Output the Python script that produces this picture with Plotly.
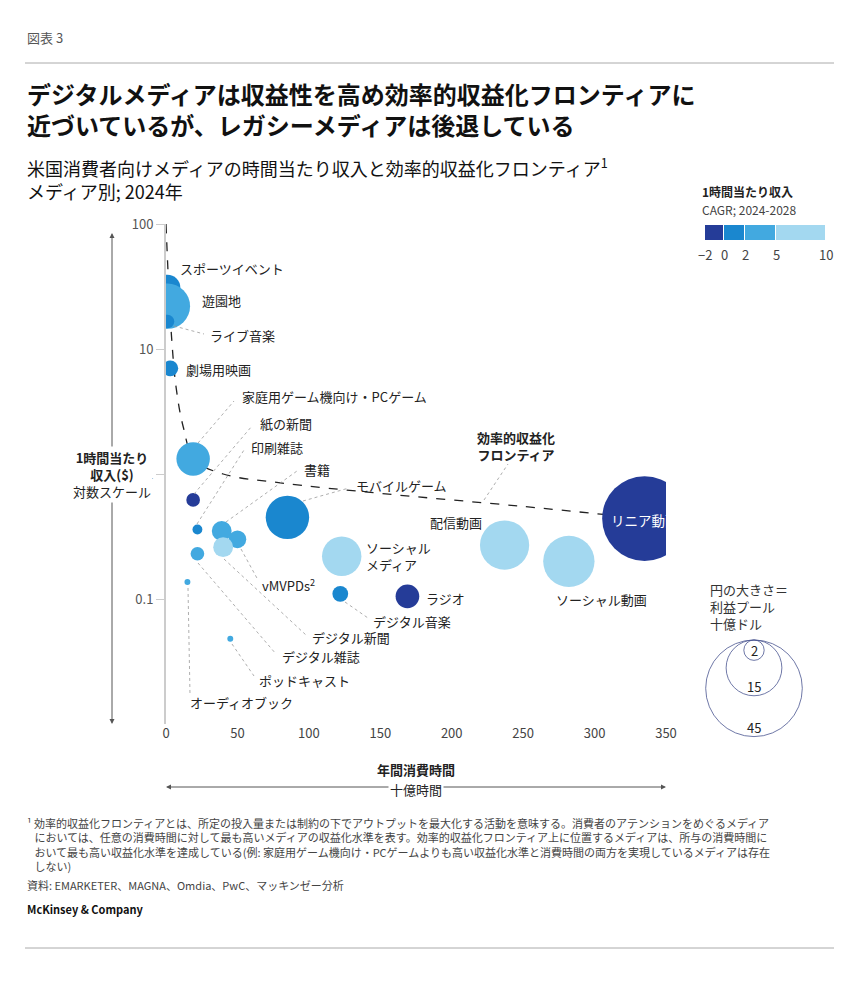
import numpy as np
import plotly.graph_objects as go

# data
media = ["スポーツイベント", "遊園地", "ライブ音楽", "劇場用映画", "家庭用ゲーム機向け・PCゲーム",
         "紙の新聞", "印刷雑誌", "書籍", "vMVPDs", "デジタル新聞", "デジタル雑誌", "モバイルゲーム",
         "ソーシャルメディア", "デジタル音楽", "ラジオ", "配信動画", "ソーシャル動画", "リニア動画",
         "ポッドキャスト", "オーディオブック"]
hours = [1, 1, 1, 3, 19, 19, 22, 39, 50, 40, 22, 85, 123, 122, 169, 237, 282, 335, 45, 15]
revenue = [31, 22, 16.6, 7, 1.32, 0.62, 0.36, 0.35, 0.30, 0.26, 0.23, 0.45, 0.22, 0.11, 0.105,
           0.27, 0.2, 0.44, 0.048, 0.137]
profit = [3.2, 9.9, 0.9, 1.2, 5.4, 0.9, 0.47, 1.9, 1.5, 1.9, 0.9, 9.1, 7.5, 1.2, 2.7, 11.7,
          12.7, 34.7, 0.17, 0.17]
cagr_bin = [1, 2, 1, 1, 2, 0, 1, 2, 2, 3, 2, 1, 3, 1, 0, 3, 3, 0, 2, 2]

frontier_x = [0, 2, 4, 7, 12, 20, 40, 80, 150, 250, 335]
frontier_y = [100, 30, 12, 5, 2.4, 1.3, 1.0, 0.85, 0.7, 0.55, 0.44]

bin_colors = ["#253c98", "#1a87cf", "#42a9e0", "#a3d8f0"]
cagr_ticks = [-2, 0, 2, 5, 10]
legend_sizes = [45, 15, 2]

K = 7.2  # px radius per sqrt(billion $)
FONT = "Noto Sans CJK JP"

fig = go.Figure()
fig.add_trace(go.Scatter(x=frontier_x, y=frontier_y, mode="lines",
                         line=dict(color="#222", width=1.3, dash="dash", shape="spline"),
                         hoverinfo="skip"))
fig.add_trace(go.Scatter(
    x=hours, y=revenue, mode="markers", text=media,
    marker=dict(size=[2 * K * np.sqrt(p) for p in profit],
                color=[bin_colors[b] for b in cagr_bin], opacity=1, line=dict(width=0))))

# pixel -> paper helpers (plot area: x 158..658, y 216..716)
def px(p):
    return (p - 158) / 500

def py(p):
    return (716 - p) / 500

ann = []
shapes = []

def text(x, y, s, size=13, color="#222", anchor="left", bold=False, bg=None, valign="middle"):
    if bold:
        s = "<b>" + s + "</b>"
    d = dict(x=px(x), y=py(y), xref="paper", yref="paper", text=s, showarrow=False,
             xanchor=anchor, yanchor=valign, font=dict(size=size, color=color, family=FONT),
             align=anchor if anchor != "center" else "center")
    if bg:
        d["bgcolor"] = bg
    ann.append(d)

def line(x0, y0, x1, y1, color="#999", width=0.8, dash="dot"):
    shapes.append(dict(type="line", xref="paper", yref="paper", x0=px(x0), y0=py(y0),
                       x1=px(x1), y1=py(y1), line=dict(color=color, width=width, dash=dash)))

# labels
text(170, 260, "スポーツイベント")
text(192, 292, "遊園地")
text(200, 327, "ライブ音楽"); line(166, 318, 196, 326)
text(176, 361, "劇場用映画")
text(232, 388, "家庭用ゲーム機向け・PCゲーム"); line(190, 435, 226, 393)
text(250, 415, "紙の新聞"); line(186, 486, 244, 418)
text(241, 439, "印刷雑誌"); line(189, 516, 236, 442)
text(294, 461, "書籍"); line(218, 514, 289, 463)
text(346, 477, "モバイルゲーム"); line(295, 493, 341, 480)
text(356, 548, "ソーシャル<br>メディア")
text(420, 514, "配信動画")
text(637, 512, "リニア動画", size=13.5, color="white", anchor="center")
text(546, 591, "ソーシャル動画")
text(416, 590, "ラジオ")
text(363, 613, "デジタル音楽"); line(337, 594, 360, 610)
text(252, 577, "vMVPDs<sup>2</sup>"); line(233, 541, 250, 572)
text(302, 629, "デジタル新聞"); line(216, 551, 298, 627)
text(272, 648, "デジタル雑誌"); line(190, 555, 268, 646)
text(249, 672, "ポッドキャスト"); line(224, 636, 246, 668)
text(180, 694, "オーディオブック"); line(180, 580, 182, 687)
text(508, 438, "効率的収益化<br>フロンティア", anchor="center", bold=True)
line(476, 492, 500, 456)

# axis arrows and titles
for (x0, y0, x1, y1) in [(104, 470, 104, 225), (104, 470, 104, 716),
                         (408, 779, 158, 779), (408, 779, 658, 779)]:
    ann.append(dict(x=px(x1), y=py(y1), ax=x0 - x1, ay=y0 - y1, xref="paper", yref="paper",
                    axref="pixel", ayref="pixel", text="", showarrow=True, arrowhead=2,
                    arrowsize=1, arrowwidth=1, arrowcolor="#555"))
text(104, 466, "<b>1時間当たり<br>収入($)</b><br>対数スケール", anchor="center", bg="white")
text(408, 761, "年間消費時間", anchor="center", bold=True)
text(408, 781, "十億時間", anchor="center", bg="white")

# CAGR legend
edges_px = [697, 716, 737, 768, 818]
text(692, 184, "1時間当たり収入", bold=True, size=12)
text(692, 201, "CAGR; 2024-2028", size=12, color="#444")
for i in range(4):
    shapes.append(dict(type="rect", xref="paper", yref="paper", x0=px(edges_px[i]),
                       x1=px(edges_px[i + 1]) - 0.002, y0=py(232), y1=py(217),
                       fillcolor=bin_colors[i], line=dict(width=0)))
for t, e in zip(cagr_ticks, edges_px):
    text(e, 246, ("−" + str(-t)) if t < 0 else str(t), anchor="center", size=13, color="#444")

# size legend
text(700, 598, "円の大きさ＝<br>利益プール<br>十億ドル", size=13, color="#333")
for v in legend_sizes:
    r = K * np.sqrt(v)
    shapes.append(dict(type="circle", xref="paper", yref="paper", x0=px(746 - r), x1=px(746 + r),
                       y0=py(632), y1=py(632 + 2 * r), line=dict(color="#4a5590", width=0.8)))
    text(746, 632 + 2 * r - (9 if v > 2 else r), str(v), anchor="center", size=13)

# header / footer (paper coords outside plot)
text(17, 30, "図表 3", size=13, color="#555")
shapes.append(dict(type="line", xref="paper", yref="paper", x0=px(17), x1=px(826), y0=py(55), y1=py(55),
                   line=dict(color="#aaa", width=1)))
shapes.append(dict(type="line", xref="paper", yref="paper", x0=px(17), x1=px(826), y0=py(940), y1=py(940),
                   line=dict(color="#aaa", width=1)))
text(17, 101, "デジタルメディアは収益性を高め効率的収益化フロンティアに<br>近づいているが、レガシーメディアは後退している",
     size=24, bold=True, color="#111")
text(17, 171, "米国消費者向けメディアの時間当たり収入と効率的収益化フロンティア<sup>1</sup><br>"
     "<span style='font-weight:normal'>メディア別; 2024年</span>", size=18, color="#111")
text(17, 836, "¹ 効率的収益化フロンティアとは、所定の投入量または制約の下でアウトプットを最大化する活動を意味する。消費者のアテンションをめぐるメディア<br>"
     "   においては、任意の消費時間に対して最も高いメディアの収益化水準を表す。効率的収益化フロンティア上に位置するメディアは、所与の消費時間に<br>"
     "   おいて最も高い収益化水準を達成している(例: 家庭用ゲーム機向け・PCゲームよりも高い収益化水準と消費時間の両方を実現しているメディアは存在<br>"
     "   しない)", size=11, color="#444")
text(17, 877, "資料: EMARKETER、MAGNA、Omdia、PwC、マッキンゼー分析", size=11, color="#444")
text(17, 901, "<b>McKinsey & Company</b>", size=11, color="#111")

fig.update_layout(
    width=845, height=983, margin=dict(l=158, r=187, t=216, b=267),
    paper_bgcolor="white", plot_bgcolor="white", showlegend=False,
    font=dict(family=FONT, color="#444", size=13),
    annotations=ann, shapes=shapes,
    xaxis=dict(range=[0, 350], tickvals=[0, 50, 100, 150, 200, 250, 300, 350], showgrid=False,
               zeroline=False, showline=False, ticks="", tickfont=dict(size=13, color="#444")),
    yaxis=dict(type="log", range=[-2, 2], tickvals=[0.1, 1, 10, 100], ticktext=["0.1", "1", "10", "100"],
               showgrid=False, zeroline=False, showline=True, linecolor="#ccc", linewidth=2,
               ticks="outside", ticklen=8, tickcolor="#ccc", tickfont=dict(size=13, color="#555")),
)
fig.write_html("out.html")
